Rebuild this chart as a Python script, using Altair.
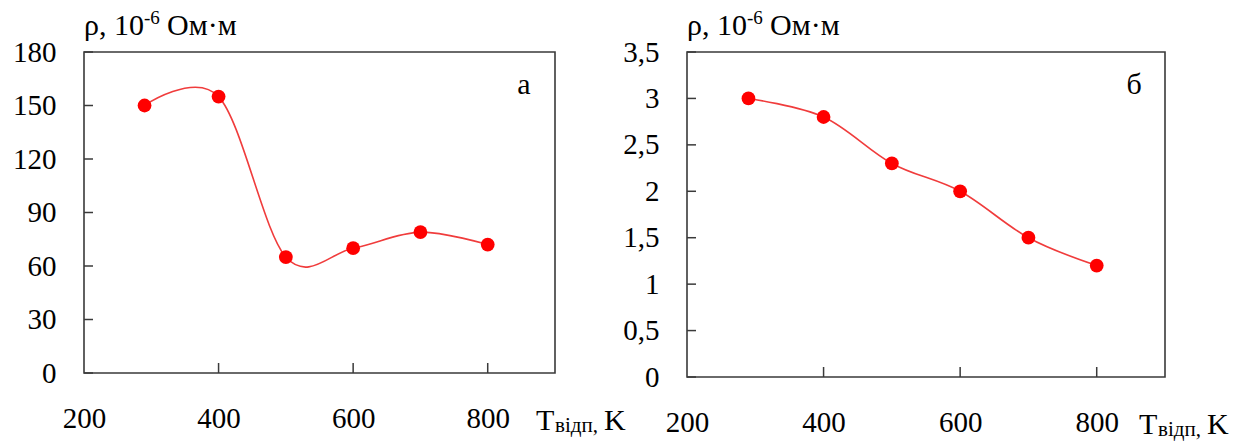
import altair as alt
import pandas as pd

# ---- data ----
temps = [290, 400, 500, 600, 700, 800]
rho_a = [150, 155, 65, 70, 79, 72]
rho_b = [3.0, 2.8, 2.3, 2.0, 1.5, 1.2]

x_ticks = [200, 400, 600, 800]
y_ticks_a = [0, 30, 60, 90, 120, 150, 180]
y_ticks_b = [0, 0.5, 1.0, 1.5, 2.0, 2.5, 3.0, 3.5]

FONT = "Liberation Serif"
LINE_COLOR = "#f03c3c"
PT_COLOR = "#ff0000"
FRAME = "#3a3a3a"


def panel(values, ydom, yticks, w, h, letter):
    df = pd.DataFrame({"T": temps, "rho": values})
    xs = alt.Scale(domain=[200, 900], nice=False, zero=False)
    ys = alt.Scale(domain=ydom, nice=False, zero=False)
    xenc = alt.X("T:Q", scale=xs, axis=alt.Axis(
        values=x_ticks, title=None, ticks=False, domain=False, grid=False,
        labelPadding=31, labelFont=FONT, labelFontSize=29, labelColor="black",
        format="d", labelFlush=False))
    yenc = alt.Y("rho:Q", scale=ys, axis=alt.Axis(
        values=yticks, title=None, ticks=False, domain=False, grid=False,
        labelPadding=28, labelFont=FONT, labelFontSize=29, labelColor="black",
        labelExpr="replace(toString(datum.value), '.', ',')"))

    base = alt.Chart(df)
    line = base.mark_line(interpolate="cardinal", color=LINE_COLOR,
                          strokeWidth=1.6).encode(x=xenc, y=yenc)
    pts = base.mark_circle(size=190, color=PT_COLOR, opacity=1).encode(
        x=xenc, y=yenc)

    ytk = alt.Chart(pd.DataFrame({"rho": yticks})).mark_rule(
        color=FRAME, strokeWidth=1.5).encode(
        y=yenc, x=alt.value(0), x2=alt.value(9))
    xtk = alt.Chart(pd.DataFrame({"T": x_ticks[1:]})).mark_rule(
        color=FRAME, strokeWidth=1.5).encode(
        x=xenc, y=alt.value(h), y2=alt.value(h - 10))

    def txt(s, x, y, size, align="left", baseline="alphabetic"):
        return alt.Chart(pd.DataFrame({"s": [s]})).mark_text(
            align=align, baseline=baseline, font=FONT, fontSize=size,
            color="black").encode(x=alt.value(x), y=alt.value(y), text="s:N")

    lab = txt(letter, w - 31, 33, 30, align="center", baseline="middle")
    yt1 = txt("ρ, 10", 0, -17, 30)
    yt2 = txt("-6", 60, -28, 19)
    yt3 = txt("Ом·м", 83, -17, 30)
    xt1 = txt("T", 452, h + 57, 30)
    xt2 = txt("відп,", 471, h + 59, 21)
    xt3 = txt("K", 520, h + 57, 30)

    return alt.layer(line, pts, ytk, xtk, lab, yt1, yt2, yt3, xt1, xt2, xt3).properties(
        width=w, height=h)


left = panel(rho_a, [0, 180], y_ticks_a, 471, 321, "а")
right = panel(rho_b, [0, 3.5], y_ticks_b, 478, 325, "б")

chart = alt.hconcat(left, right, spacing=132, bounds="flush").configure_view(
    stroke=FRAME, strokeWidth=1.6).properties(
    padding={"left": 11, "top": 8, "right": 5, "bottom": 5})

chart.save("out.html", embed_options={"renderer": "svg", "actions": False})
